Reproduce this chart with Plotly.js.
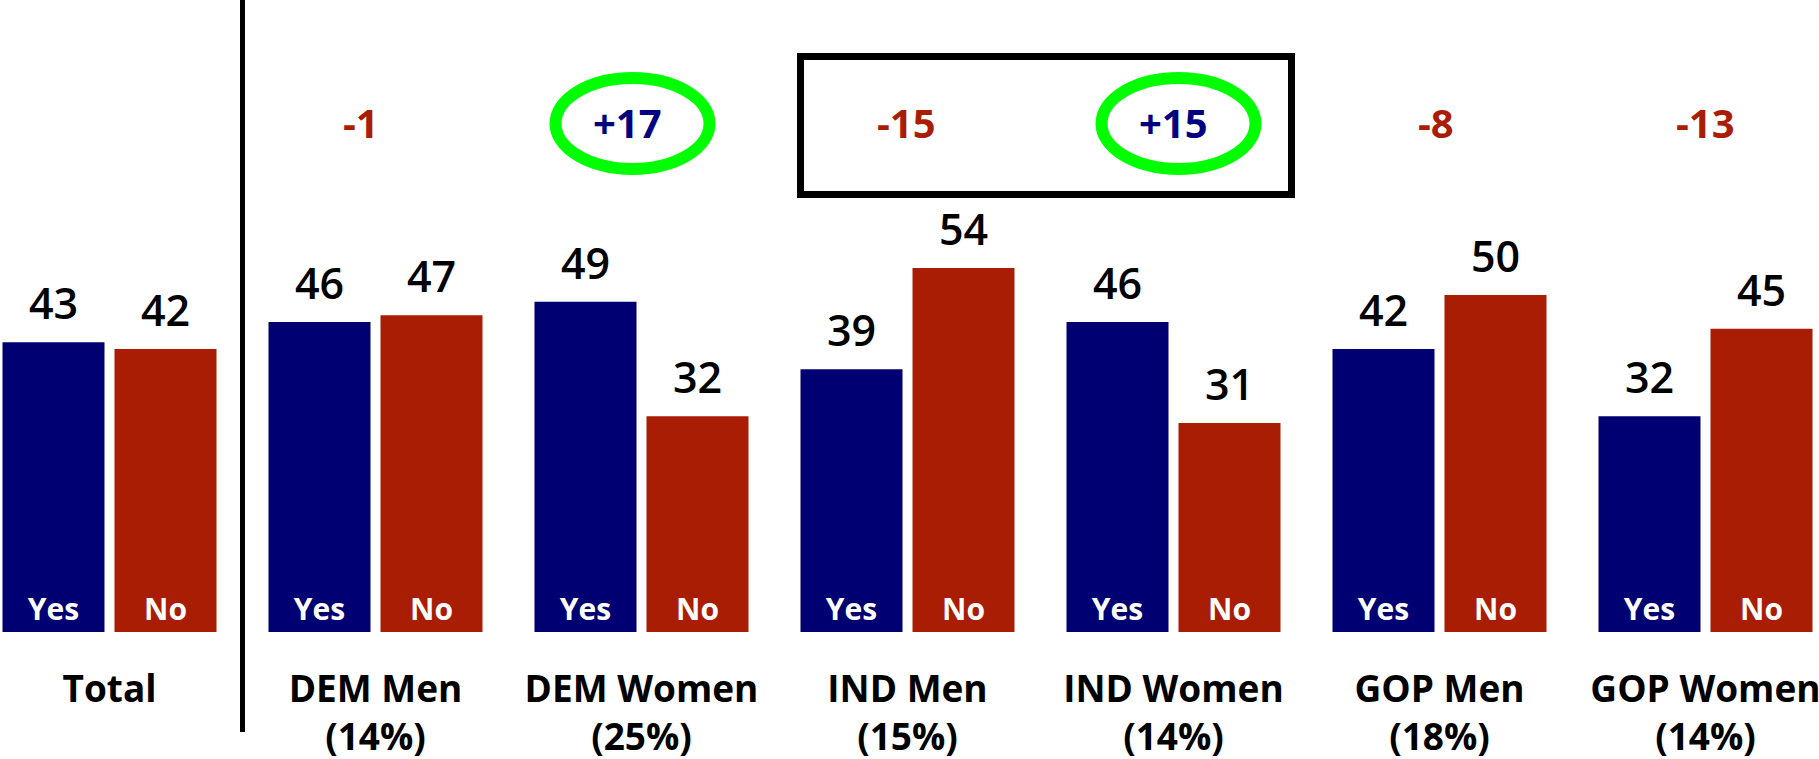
<!DOCTYPE html>
<html>
<head>
<meta charset="utf-8">
<script src="https://cdn.plot.ly/plotly-3.0.1.min.js"></script>
<style>
  html, body { margin: 0; padding: 0; background: #ffffff; }
  #chart { width: 1819px; height: 759px; }
</style>
</head>
<body>
<div id="chart"></div>
<script>
// ---------------- DATA ----------------
var groupNames  = ["Total", "DEM Men", "DEM Women", "IND Men", "IND Women", "GOP Men", "GOP Women"];
var groupShares = ["", "14%", "25%", "15%", "14%", "18%", "14%"];
var yesValues   = [43, 46, 49, 39, 46, 42, 32];
var noValues    = [42, 47, 32, 54, 31, 50, 45];
var seriesNames = ["Yes", "No"];
// net difference labels above each subgroup (all groups except Total)
var diffGroups  = ["DEM Men", "DEM Women", "IND Men", "IND Women", "GOP Men", "GOP Women"];
var diffValues  = [-1, 17, -15, 15, -8, -13];
var circledGroups = ["DEM Women", "IND Women"];
var boxedGroups   = ["IND Men", "IND Women"];

// ---------------- STYLE / GEOMETRY ----------------
var BLUE = "#000073", RED = "#AA1D05", GREEN = "#00FF00";
var FONT = "Open Sans, Noto Sans, sans-serif";
var PX_PER_GROUP = 266;          // horizontal pitch of groups (px)
var PX_PER_UNIT  = 6.74;         // vertical px per percentage point
var PLOT_H = 632, W = 1819, H = 759;
var barW   = 102 / PX_PER_GROUP;
var innerGap = 10 / PX_PER_GROUP;
var yesOffset = -(barW + innerGap / 2);
var noOffset  = innerGap / 2;
var yesCenter = yesOffset + barW / 2;
var noCenter  = noOffset + barW / 2;
var xMin = -109.5 / PX_PER_GROUP;
var xMax = xMin + W / PX_PER_GROUP;
var yMax = PLOT_H / PX_PER_UNIT;
function pxToY(py) { return (PLOT_H - py) / PX_PER_UNIT; }
var diffNudgePx = [-15, -14, -1, 0, -4, 0];   // small horizontal nudges of the net labels
var diffYCenter = pxToY(122);

var idx = groupNames.map(function (_, i) { return i; });
var groupIndex = function (name) { return groupNames.indexOf(name); };

var traces = [
  {
    type: "bar", name: seriesNames[0], x: idx, y: yesValues,
    width: barW, offset: yesOffset,
    marker: { color: BLUE, line: { width: 0 } },
    text: idx.map(function () { return seriesNames[0]; }),
    textposition: "inside", insidetextanchor: "start", textangle: 0,
    insidetextfont: { family: FONT, size: 30, color: "#ffffff", weight: "bold" },
    hoverinfo: "none"
  },
  {
    type: "bar", name: seriesNames[1], x: idx, y: noValues,
    width: barW, offset: noOffset,
    marker: { color: RED, line: { width: 0 } },
    text: idx.map(function () { return seriesNames[1]; }),
    textposition: "inside", insidetextanchor: "start", textangle: 0,
    insidetextfont: { family: FONT, size: 30, color: "#ffffff", weight: "bold" },
    hoverinfo: "none"
  }
];

var annotations = [];
// value labels above bars
idx.forEach(function (i) {
  [[yesValues[i], yesCenter], [noValues[i], noCenter]].forEach(function (p) {
    annotations.push({
      x: i + p[1], y: p[0], xref: "x", yref: "y",
      text: String(p[0]), showarrow: false, yanchor: "bottom", yshift: 8,
      font: { family: FONT, size: 43, color: "#000000", weight: 600 }
    });
  });
});
// net difference labels
diffGroups.forEach(function (g, k) {
  var v = diffValues[k];
  annotations.push({
    x: groupIndex(g), y: diffYCenter, xref: "x", yref: "y",
    xshift: diffNudgePx[k],
    text: (v > 0 ? "+" : "") + v, showarrow: false, yanchor: "middle",
    font: { family: FONT, size: 40, color: v > 0 ? "#000080" : RED, weight: "bold" }
  });
});

var shapes = [];
// vertical separator between Total and subgroups
shapes.push({
  type: "line", xref: "x", yref: "paper",
  x0: 0.5, x1: 0.5, y0: -100 / PLOT_H, y1: 1,
  line: { color: "#000000", width: 5 }
});
// box around the IND groups
var b0 = groupIndex(boxedGroups[0]), b1 = groupIndex(boxedGroups[boxedGroups.length - 1]);
shapes.push({
  type: "rect", xref: "x", yref: "y",
  x0: b0 + yesOffset, x1: b1 + noOffset + barW + 11 / PX_PER_GROUP,
  y0: pxToY(194.5), y1: pxToY(56.5),
  line: { color: "#000000", width: 7 }, fillcolor: "rgba(0,0,0,0)"
});
// green ellipses around highlighted net labels
circledGroups.forEach(function (g) {
  var gi = groupIndex(g);
  var k = diffGroups.indexOf(g);
  var cx = gi + (diffNudgePx[k] + 5) / PX_PER_GROUP;
  var rx = 77 / PX_PER_GROUP, ry = 45.5 / PX_PER_UNIT;
  var cy = pxToY(123.5);
  shapes.push({
    type: "circle", xref: "x", yref: "y",
    x0: cx - rx, x1: cx + rx, y0: cy - ry, y1: cy + ry,
    line: { color: GREEN, width: 12 }, fillcolor: "rgba(0,0,0,0)"
  });
});

var layout = {
  width: W, height: H,
  margin: { l: 0, r: 0, t: 0, b: H - PLOT_H, pad: 0 },
  paper_bgcolor: "#ffffff", plot_bgcolor: "#ffffff",
  barmode: "overlay",
  showlegend: false,
  hovermode: false,
  xaxis: {
    range: [xMin, xMax], fixedrange: true,
    tickmode: "array", tickvals: idx,
    ticktext: groupNames.map(function (n, i) { return groupShares[i] ? n + "<br>(" + groupShares[i] + ")" : n; }),
    tickfont: { family: FONT, size: 37, color: "#000000", weight: "bold" },
    tickangle: 0, ticks: "", ticklabelstandoff: 32, ticklabeloverflow: "allow",
    showgrid: false, zeroline: false, showline: false
  },
  yaxis: { range: [0, yMax], visible: false, fixedrange: true },
  annotations: annotations,
  shapes: shapes
};

Plotly.newPlot("chart", traces, layout, { staticPlot: true, displayModeBar: false });
</script>
</body>
</html>
